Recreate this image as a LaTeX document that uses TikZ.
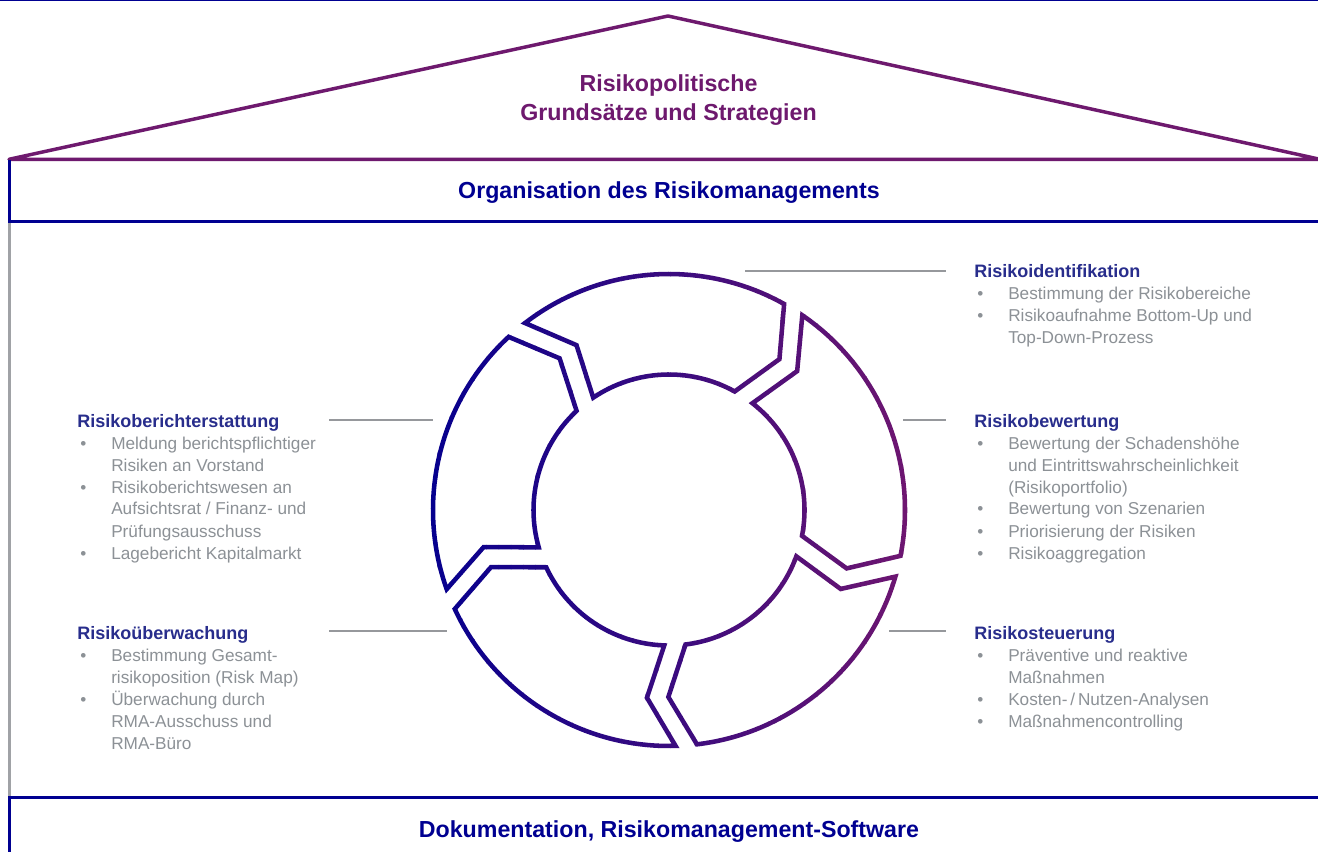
\documentclass[tikz,border=0pt]{standalone}
\usepackage{fontspec}
\setmainfont{Liberation Sans}
\definecolor{navy}{RGB}{0,0,145}
\definecolor{roof}{RGB}{110,25,110}
\definecolor{ringB}{RGB}{6,0,142}
\definecolor{ringP}{RGB}{110,22,112}
\definecolor{headc}{RGB}{40,45,140}
\definecolor{txtgray}{RGB}{140,145,150}
\definecolor{linegray}{RGB}{150,152,156}
\definecolor{sidegray}{RGB}{160,162,166}
\newcommand\rkhd[1]{{\fontsize{13.5}{16.5}\selectfont\bfseries\color{headc}#1}}
\newcommand\rkbl{\makebox[25.5pt][l]{\hspace{2.3pt}\textbullet}}
\newcommand\rkind{\hspace*{25.5pt}}
\newcommand\rkseg[1]{%
 (127.6-#1:236) arc[start angle=127.6-#1, end angle=60.8-#1, radius=236]
 -- (53.8-#1:187) -- (61-#1:135.5)
 arc[start angle=61-#1, end angle=124-#1, radius=135.5]
 -- (119.3-#1:189) -- cycle}
\begin{document}
\begin{tikzpicture}[x=0.75pt,y=-0.75pt,
  roofline/.style={draw=roof, line width=2.6pt, line join=round},
  navyline/.style={draw=navy, line width=2.4pt},
  conn/.style={draw=linegray, line width=1.5pt},
  ringstroke/.style={line width=3.4pt, line join=miter},
  bigtitle/.style={font=\fontsize{17.4}{21.75}\selectfont\bfseries, inner sep=0, anchor=base},
  listbox/.style={font=\fontsize{12.9}{16.5}\selectfont, text=txtgray, inner sep=0, anchor=base west}]
\useasboundingbox (0,0) rectangle (1318,852);
\fill[white] (0,0) rectangle (1318,852);

% top line
\coordinate (tl) at (0,0.5);
\coordinate (tr) at (1318,0.5);
\draw[navy, line width=1.5pt] (tl) -- (tr);

% roof
\coordinate (roofL) at (9,159.3);
\coordinate (roofT) at (668,16);
\coordinate (roofR) at (1320,159.3);
\draw[roofline] (roofL) -- (roofT) -- (roofR) -- cycle;
\node[bigtitle, text=roof] (policy) at (668.5,92)
  {\begin{tabular}[t]{@{}c@{}}Risikopolitische\\Grundsätze und Strategien\end{tabular}};

% organisation box
\coordinate (orgTL) at (9.5,160);
\coordinate (orgBL) at (9.5,221.5);
\coordinate (orgBLx) at (8,221.5);
\coordinate (orgBR) at (1318,221.5);
\draw[navyline] (orgTL) -- (orgBL);
\draw[navyline] (orgBLx) -- (orgBR);
\node[bigtitle, text=navy] (org) at (669,198.5) {Organisation des Risikomanagements};

% side gray line
\coordinate (sideT) at (9.5,223);
\coordinate (sideB) at (9.5,796);
\draw[sidegray, line width=2.2pt] (sideT) -- (sideB);

% documentation box
\coordinate (docTL) at (8,797.5);
\coordinate (docTR) at (1318,797.5);
\coordinate (docL1) at (9.5,797.5);
\coordinate (docL2) at (9.5,852);
\draw[navyline] (docTL) -- (docTR);
\draw[navyline] (docL1) -- (docL2);
\node[bigtitle, text=navy] (doc) at (669,837.5) {Dokumentation, Risikomanagement-Software};

% ring with horizontal gradient
\foreach \i in {0,...,39}{
  \pgfmathtruncatemacro\p{round(100*\i/39)}
  \begin{scope}
    \clip (425+\i*12.25,250) rectangle (425+\i*12.25+12.75,760);
    \begin{scope}[shift={(669,510)}, yscale=-1]
      \draw[ringstroke, draw=ringP!\p!ringB]
        \rkseg{0} \rkseg{72} \rkseg{144} \rkseg{216} \rkseg{288};
    \end{scope}
  \end{scope}
}

% connectors
\coordinate (c1a) at (745,271);   \coordinate (c1b) at (946,271);
\coordinate (c2a) at (903,420);   \coordinate (c2b) at (946,420);
\coordinate (c3a) at (889,631);   \coordinate (c3b) at (946,631);
\coordinate (c4a) at (329,420);   \coordinate (c4b) at (433,420);
\coordinate (c5a) at (329,631);   \coordinate (c5b) at (447,631);
\draw[conn] (c1a) -- (c1b);
\draw[conn] (c2a) -- (c2b);
\draw[conn] (c3a) -- (c3b);
\draw[conn] (c4a) -- (c4b);
\draw[conn] (c5a) -- (c5b);

% text blocks
\node[listbox] (ident) at (974,278) {\begin{tabular}[t]{@{}l@{}}
\rkhd{Risikoidentifikation}\\
\rkbl Bestimmung der Risikobereiche\\
\rkbl Risikoaufnahme Bottom-Up und\\
\rkind Top-Down-Prozess
\end{tabular}};

\node[listbox] (bewert) at (974,427) {\begin{tabular}[t]{@{}l@{}}
\rkhd{Risikobewertung}\\
\rkbl Bewertung der Schadenshöhe\\
\rkind und Eintrittswahrscheinlichkeit\\
\rkind (Risikoportfolio)\\
\rkbl Bewertung von Szenarien\\
\rkbl Priorisierung der Risiken\\
\rkbl Risikoaggregation
\end{tabular}};

\node[listbox] (steuer) at (974,639) {\begin{tabular}[t]{@{}l@{}}
\rkhd{Risikosteuerung}\\
\rkbl Präventive und reaktive\\
\rkind Maßnahmen\\
\rkbl Kosten-\,/\,Nutzen-Analysen\\
\rkbl Maßnahmencontrolling
\end{tabular}};

\node[listbox] (bericht) at (77,427) {\begin{tabular}[t]{@{}l@{}}
\rkhd{Risikoberichterstattung}\\
\rkbl Meldung berichtspflichtiger\\
\rkind Risiken an Vorstand\\
\rkbl Risikoberichtswesen an\\
\rkind Aufsichtsrat / Finanz- und\\
\rkind Prüfungsausschuss\\
\rkbl Lagebericht Kapitalmarkt
\end{tabular}};

\node[listbox] (ueberw) at (77,639) {\begin{tabular}[t]{@{}l@{}}
\rkhd{Risikoüberwachung}\\
\rkbl Bestimmung Gesamt-\\
\rkind risikoposition (Risk Map)\\
\rkbl Überwachung durch\\
\rkind RMA-Ausschuss und\\
\rkind RMA-Büro
\end{tabular}};
\end{tikzpicture}
\end{document}
